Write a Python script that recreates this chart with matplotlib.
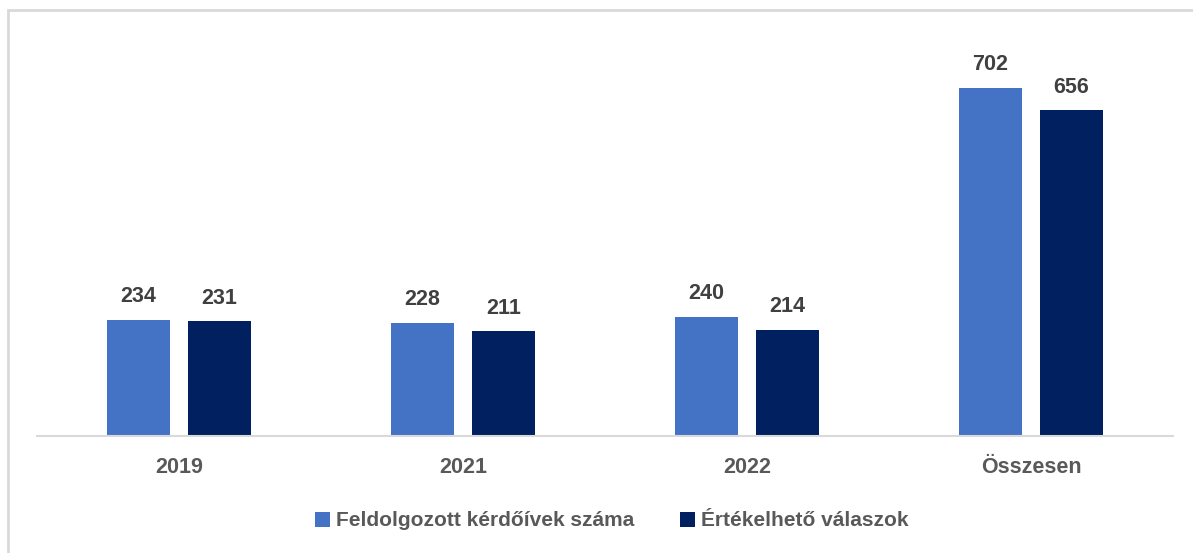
import matplotlib
matplotlib.use("Agg")
import matplotlib.pyplot as plt
from matplotlib.patches import Rectangle
import numpy as np

# Data
categories = ["2019", "2021", "2022", "Összesen"]
feldolgozott = [234, 228, 240, 702]
ertekelheto = [231, 211, 214, 656]
series_names = ["Feldolgozott kérdőívek száma", "Értékelhető válaszok"]
colors = ["#4472C4", "#002060"]

W, H = 1193, 553
fig = plt.figure(figsize=(W / 100, H / 100), dpi=100)
plt.rcParams["font.family"] = ["Liberation Sans", "DejaVu Sans"]

# outer frame (runs off the right/bottom edge like the reference)
fig.patches.append(Rectangle((8 / W, -0.01), 1.1, 1 - 10 / H + 0.01, transform=fig.transFigure,
                             facecolor="none", edgecolor="#D9D9D9", linewidth=2, zorder=0))

ax = fig.add_axes([37 / W, 1 - 436 / H, 1136 / W, (436 - 39) / H])
x = np.arange(len(categories))
bw = 0.225
gap = 0.06
off = (bw + gap) / 2
b1 = ax.bar(x - off, feldolgozott, bw, color=colors[0], label=series_names[0])
b2 = ax.bar(x + off, ertekelheto, bw, color=colors[1], label=series_names[1])

for bars in (b1, b2):
    for r in bars:
        ax.annotate(f"{int(r.get_height())}", (r.get_x() + r.get_width() / 2, r.get_height()),
                    xytext=(0, 9), textcoords="offset points", ha="center", va="bottom",
                    fontsize=15.5, fontweight="bold", color="#404040")

ax.set_xlim(-0.5, len(categories) - 0.5)
ax.set_ylim(0, 800)
ax.set_xticks(x)
ax.set_xticklabels(categories, fontsize=15.5, fontweight="bold", color="#595959")
ax.tick_params(axis="x", length=0, pad=15)
ax.set_yticks([])
for s in ["top", "right", "left"]:
    ax.spines[s].set_visible(False)
ax.spines["bottom"].set_color("#D9D9D9")
ax.spines["bottom"].set_linewidth(1.5)

leg = fig.legend(loc="center", bbox_to_anchor=(612 / W, 1 - 521 / H), ncol=2, frameon=False,
                 prop={"size": 15, "weight": "bold"}, handlelength=0.7, handleheight=0.7,
                 handletextpad=0.3, columnspacing=2.2)
for t in leg.get_texts():
    t.set_color("#595959")

fig.savefig("out.png", dpi=100)
